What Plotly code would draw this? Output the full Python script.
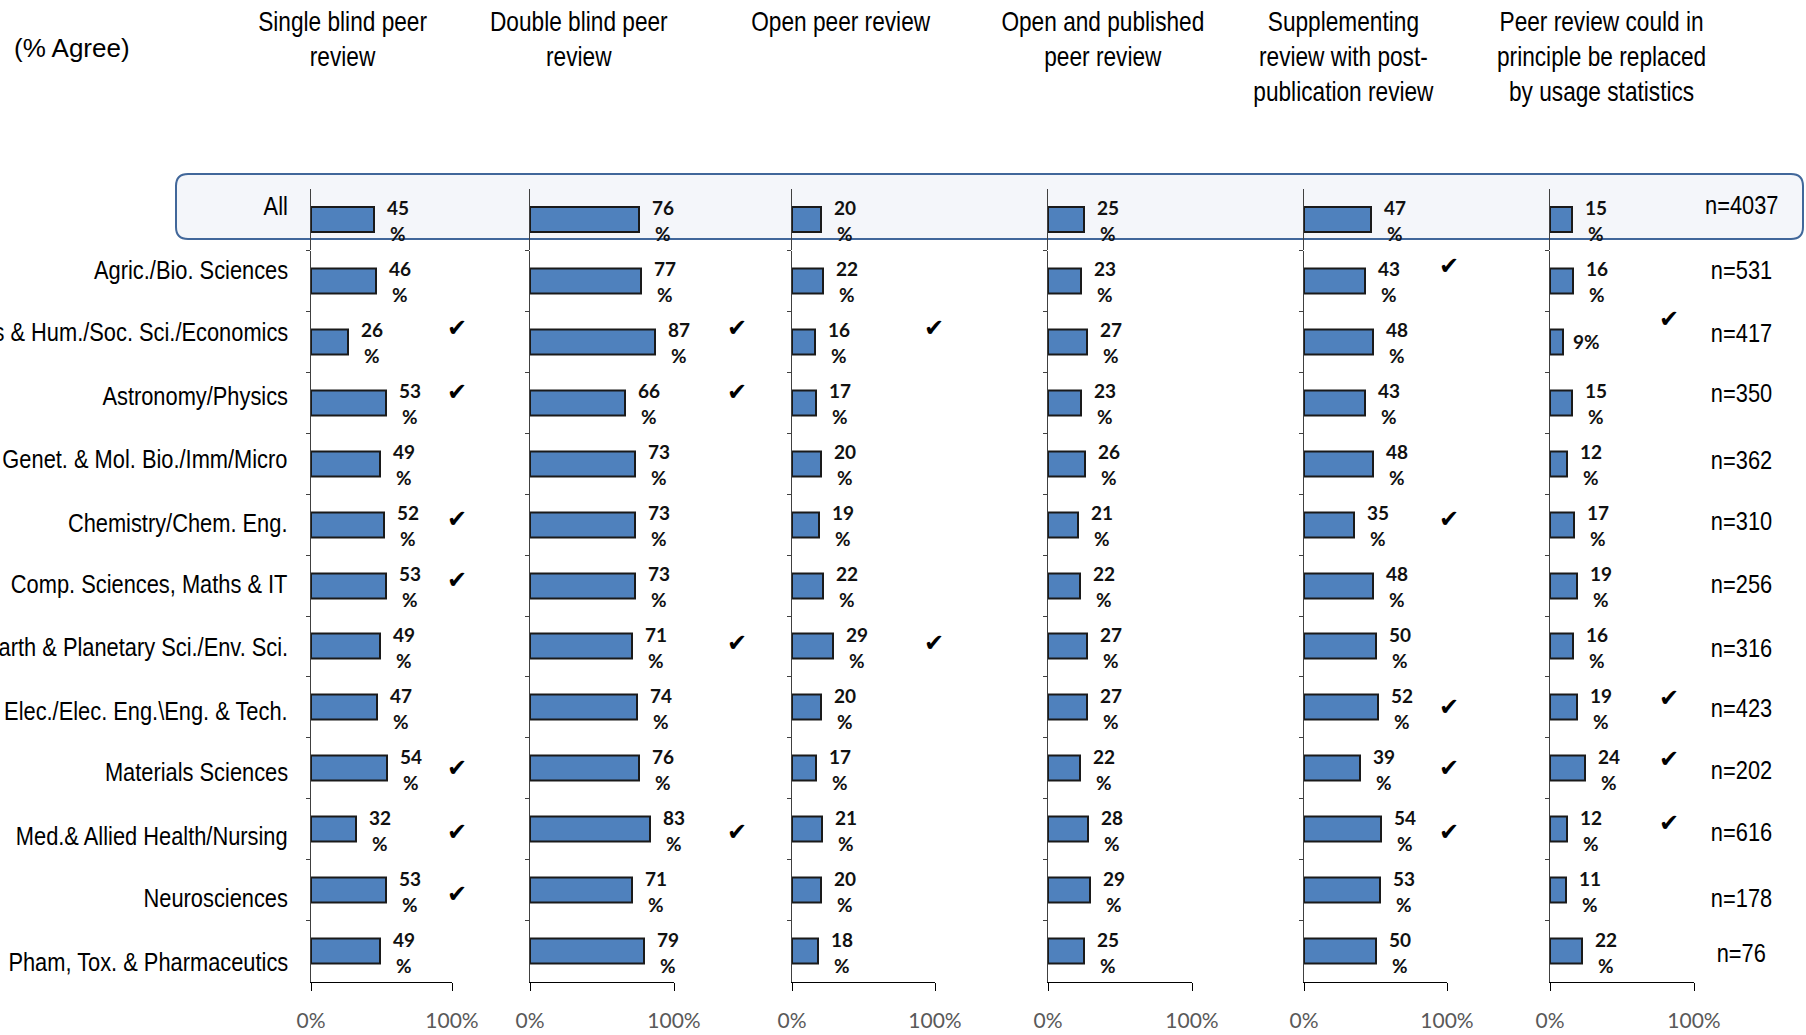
import plotly.graph_objects as go

# ---------------------------------------------------------------- data
categories = [
    "All",
    "Agric./Bio. Sciences",
    "Arts & Hum./Soc. Sci./Economics",
    "Astronomy/Physics",
    "Genet. & Mol. Bio./Imm/Micro",
    "Chemistry/Chem. Eng.",
    "Comp. Sciences, Maths & IT",
    "Earth & Planetary Sci./Env. Sci.",
    "Elec./Elec. Eng.\\Eng. & Tech.",
    "Materials Sciences",
    "Med.& Allied Health/Nursing",
    "Neurosciences",
    "Pham, Tox. & Pharmaceutics",
]

sample_sizes = [4037, 531, 417, 350, 362, 310, 256, 316, 423, 202, 616, 178, 76]

panel_titles = [
    "Single blind peer<br>review",
    "Double blind peer<br>review",
    "Open peer review",
    "Open and published<br>peer review",
    "Supplementing<br>review with post-<br>publication review",
    "Peer review could in<br>principle be replaced<br>by usage statistics",
]

single_blind = [45, 46, 26, 53, 49, 52, 53, 49, 47, 54, 32, 53, 49]
double_blind = [76, 77, 87, 66, 73, 73, 73, 71, 74, 76, 83, 71, 79]
open_review = [20, 22, 16, 17, 20, 19, 22, 29, 20, 17, 21, 20, 18]
open_published = [25, 23, 27, 23, 26, 21, 22, 27, 27, 22, 28, 29, 25]
post_publication = [47, 43, 48, 43, 48, 35, 48, 50, 52, 39, 54, 53, 50]
usage_statistics = [15, 16, 9, 15, 12, 17, 19, 16, 19, 24, 12, 11, 22]

# rows marked with a tick (1 = marked), same order as categories
single_blind_marks = [0, 0, 1, 1, 0, 1, 1, 0, 0, 1, 1, 1, 0]
double_blind_marks = [0, 0, 1, 1, 0, 0, 0, 1, 0, 0, 1, 0, 0]
open_review_marks = [0, 0, 1, 0, 0, 0, 0, 1, 0, 0, 0, 0, 0]
open_published_marks = [0, 0, 0, 0, 0, 0, 0, 0, 0, 0, 0, 0, 0]
post_publication_marks = [0, 1, 0, 0, 0, 1, 0, 0, 1, 1, 1, 0, 0]
usage_statistics_marks = [0, 0, 1, 0, 0, 0, 0, 0, 1, 1, 1, 0, 0]

axis_tick_values = [0, 100]
axis_tick_labels = ["0%", "100%"]

series = [single_blind, double_blind, open_review,
          open_published, post_publication, usage_statistics]
marks = [single_blind_marks, double_blind_marks, open_review_marks,
         open_published_marks, post_publication_marks, usage_statistics_marks]

# ---------------------------------------------------------------- layout (pixels)
W, H = 1806, 1035
PANEL_X = [(311, 452), (530, 674), (792, 935), (1048, 1192), (1304, 1447), (1550, 1694)]
TITLE_X = [342, 579, 841, 1103, 1343, 1601]
CHECK_X = [457, 737, 934, 1191, 1449, 1669]
CHECK_DY = [-4, -4, -4, -4, -4, -13]
MAIN_Y = (250.5, 981.5)   # rows 2..13
ALL_Y = (189, 250)        # "All" row
LABEL_Y = [206, 270, 332, 396, 459, 523, 584, 647, 711, 772, 836, 898, 962]
N_Y = [205, 270, 333, 393, 460, 521, 584, 648, 708, 770, 832, 898, 953]
LABEL_RIGHT = 290
N_X = 1741
BOX = dict(x0=176, x1=1803, y0=174, y1=239, r=12)

SANS = "Liberation Sans, Arial, sans-serif"
CALIBRI_LIKE = "Lato, Carlito, Open Sans, sans-serif"
BAR_BLUE = "#4F81BD"
NARROW_SCALE = 0.84      # horizontal squeeze giving a condensed sans look


def fx(px):
    return px / W


def fy(py):
    return 1 - py / H


fig = go.Figure()
layout = dict(
    width=W, height=H,
    margin=dict(l=0, r=0, t=0, b=0, autoexpand=False),
    paper_bgcolor="white",
    plot_bgcolor="rgba(0,0,0,0)",
    showlegend=False,
    bargap=0,
)
annotations = []

rows = categories[1:]

for p in range(6):
    values = series[p]
    km = p + 1          # main subplot
    ka = p + 7          # "All" subplot
    xm, ym = (f"x{km}", f"y{km}") if km > 1 else ("x", "y")
    xa, ya = f"x{ka}", f"y{ka}"
    dom_x = [fx(PANEL_X[p][0]), fx(PANEL_X[p][1])]

    bar_style = dict(color=BAR_BLUE, line=dict(color="#1a1a1a", width=2))
    fig.add_trace(go.Bar(x=values[1:], y=rows, orientation="h", width=0.41,
                         marker=bar_style, xaxis=xm, yaxis=ym, hoverinfo="skip"))
    fig.add_trace(go.Bar(x=[values[0]], y=[categories[0]], orientation="h", width=0.41,
                         marker=bar_style, xaxis=xa, yaxis=ya, hoverinfo="skip"))

    layout["xaxis" if km == 1 else f"xaxis{km}"] = dict(
        domain=dom_x, range=[0, 100], anchor=ym, fixedrange=True,
        showline=True, linecolor="#000000", linewidth=1,
        ticks="outside", ticklen=8, tickcolor="#000000", tickwidth=1,
        tickvals=axis_tick_values, ticktext=axis_tick_labels,
        tickfont=dict(family=CALIBRI_LIKE, size=21, color="#595959"),
        ticklabelstandoff=12, showgrid=False, zeroline=False,
    )
    layout["yaxis" if km == 1 else f"yaxis{km}"] = dict(
        domain=[fy(MAIN_Y[1]), fy(MAIN_Y[0])], anchor=xm, type="category",
        categoryorder="array", categoryarray=rows, range=[len(rows) - 0.5, -0.5],
        fixedrange=True, showline=True, linecolor="#404040", linewidth=1,
        ticks="outside", ticklen=4, tickcolor="#404040", tickson="boundaries",
        showticklabels=False, showgrid=False, zeroline=False,
    )
    layout[f"xaxis{ka}"] = dict(domain=dom_x, range=[0, 100], anchor=ya,
                                visible=False, fixedrange=True)
    layout[f"yaxis{ka}"] = dict(
        domain=[fy(ALL_Y[1]), fy(ALL_Y[0])], anchor=xa, type="category",
        categoryarray=[categories[0]], range=[0.5, -0.5], fixedrange=True,
        showline=True, linecolor="#404040", linewidth=1, ticks="",
        showticklabels=False, showgrid=False, zeroline=False,
    )

    # value labels beside each bar
    for i, v in enumerate(values):
        xr, yr = (xa, ya) if i == 0 else (xm, ym)
        base = dict(x=v, y=categories[i], xref=xr, yref=yr, showarrow=False,
                    xanchor="center", yanchor="middle", xshift=24,
                    font=dict(family=CALIBRI_LIKE, size=19, color="#111111", weight=700))
        if v < 10:
            annotations.append(dict(base, text=f"{v}%"))
        else:
            annotations.append(dict(base, text=f"{v}", yshift=12))
            annotations.append(dict(base, text="%", yshift=-14))

    # tick marks
    for i, m in enumerate(marks[p]):
        if m:
            annotations.append(dict(
                x=fx(CHECK_X[p]), y=fy(LABEL_Y[i] + CHECK_DY[p]), xref="paper", yref="paper",
                text="✔", showarrow=False, xanchor="center", yanchor="middle",
                font=dict(family="DejaVu Sans", size=24, color="#000000")))

    # panel heading
    annotations.append(dict(
        x=fx(TITLE_X[p]), y=fy(5), xref="paper", yref="paper", text=panel_titles[p],
        showarrow=False, xanchor="center", yanchor="top", align="center", name="narrow",
        font=dict(family=SANS, size=27, color="#000000")))

# category names and sample sizes
for i, name in enumerate(categories):
    annotations.append(dict(
        x=fx(LABEL_RIGHT), y=fy(LABEL_Y[i]), xref="paper", yref="paper", text=name,
        showarrow=False, xanchor="right", yanchor="middle", name="narrow",
        font=dict(family=SANS, size=26, color="#000000")))
    annotations.append(dict(
        x=fx(N_X), y=fy(N_Y[i]), xref="paper", yref="paper", text=f"n={sample_sizes[i]}",
        showarrow=False, xanchor="center", yanchor="middle", name="narrow",
        font=dict(family=SANS, size=26, color="#000000")))

annotations.append(dict(
    x=fx(12), y=fy(48), xref="paper", yref="paper", text="(% Agree)",
    showarrow=False, xanchor="left", yanchor="middle",
    font=dict(family=SANS, size=26, color="#000000")))

# rounded frame around the "All" row
x0, x1 = fx(BOX["x0"]), fx(BOX["x1"])
y0, y1 = fy(BOX["y1"]), fy(BOX["y0"])
rx, ry = BOX["r"] / W, BOX["r"] / H
path = (f"M {x0 + rx},{y1} L {x1 - rx},{y1} Q {x1},{y1} {x1},{y1 - ry} "
        f"L {x1},{y0 + ry} Q {x1},{y0} {x1 - rx},{y0} L {x0 + rx},{y0} "
        f"Q {x0},{y0} {x0},{y0 + ry} L {x0},{y1 - ry} Q {x0},{y1} {x0 + rx},{y1} Z")
layout["shapes"] = [dict(type="path", path=path, xref="paper", yref="paper",
                         fillcolor="#F4F6FA", line=dict(color="#41679A", width=2),
                         layer="below")]
layout["annotations"] = annotations

fig.update_layout(**layout)

# squeeze the label texts horizontally (condensed sans look), keeping their anchor edge fixed
post_script = """
(function(){
  var gd = document.getElementById('{plot_id}');
  function squeeze(){
    var anns = (gd._fullLayout || {}).annotations || [];
    gd.querySelectorAll('g.annotation').forEach(function(g){
      var a = anns[+g.getAttribute('data-index')];
      if (!a || a.name !== 'narrow') return;
      var t = g.querySelector('text.annotation-text');
      if (!t) return;
      var origin = a.xanchor === 'right' ? 'right' : (a.xanchor === 'left' ? 'left' : 'center');
      t.style.transformBox = 'fill-box';
      t.style.transformOrigin = origin + ' center';
      t.style.transform = 'scaleX(SCALE)';
    });
  }
  squeeze();
  if (gd.on) { gd.on('plotly_afterplot', squeeze); }
  setTimeout(squeeze, 0);
})();
""".replace("SCALE", str(NARROW_SCALE))

fig.write_html("out.html", post_script=post_script)
